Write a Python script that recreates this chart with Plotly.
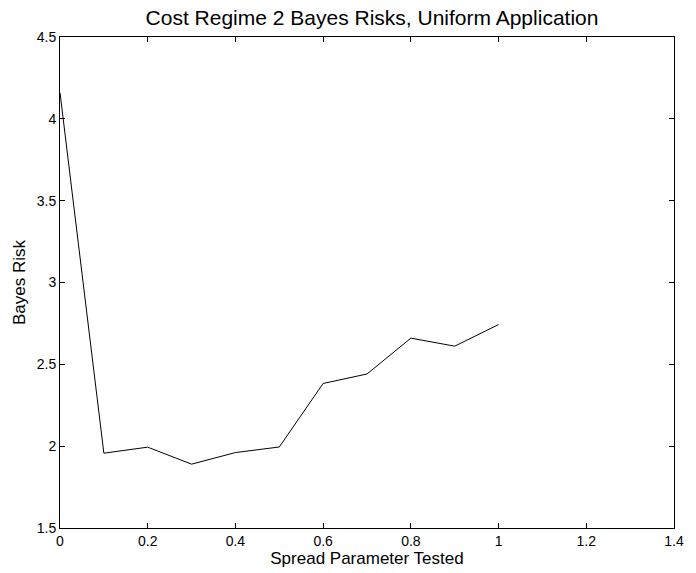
import plotly.graph_objects as go

spread = [0.0, 0.1, 0.2, 0.3, 0.4, 0.5, 0.6, 0.7, 0.8, 0.9, 1.0]
bayes_risk = [4.16, 1.957, 1.994, 1.890, 1.961, 1.995, 2.383, 2.441, 2.660, 2.611, 2.743]

x_ticks = [0, 0.2, 0.4, 0.6, 0.8, 1.0, 1.2, 1.4]
x_labels = ["0", "0.2", "0.4", "0.6", "0.8", "1", "1.2", "1.4"]
y_ticks = [1.5, 2, 2.5, 3, 3.5, 4, 4.5]
y_labels = ["1.5", "2", "2.5", "3", "3.5", "4", "4.5"]

fig = go.Figure()
fig.add_trace(go.Scatter(x=spread, y=bayes_risk, mode="lines",
                         line=dict(color="black", width=1), showlegend=False))

font = "Liberation Sans, Arial, Helvetica, sans-serif"
axis_common = dict(showgrid=False, zeroline=False, showline=True, linecolor="black",
                   linewidth=1, mirror="allticks", ticks="inside", ticklen=5,
                   tickcolor="black", tickwidth=1,
                   tickfont=dict(family=font, size=14, color="black"))

fig.update_xaxes(range=[0, 1.4], tickvals=x_ticks, ticktext=x_labels,
                 title=dict(text="Spread Parameter Tested", font=dict(family=font, size=17, color="black"), standoff=0),
                 **axis_common)
fig.update_yaxes(range=[1.5, 4.5], tickvals=y_ticks, ticktext=y_labels,
                 title=dict(text="Bayes Risk", font=dict(family=font, size=17, color="black"), standoff=6),
                 **axis_common)

fig.update_layout(
    width=696, height=573,
    margin=dict(l=60, r=12, t=37, b=43),
    paper_bgcolor="white", plot_bgcolor="white",
    title=dict(text="Cost Regime 2 Bayes Risks, Uniform Application",
               x=0.5345, xanchor="center", y=1 - 18 / 573, yanchor="middle", yref="container",
               font=dict(family=font, size=21, color="black")),
)

fig.write_html("out.html")
